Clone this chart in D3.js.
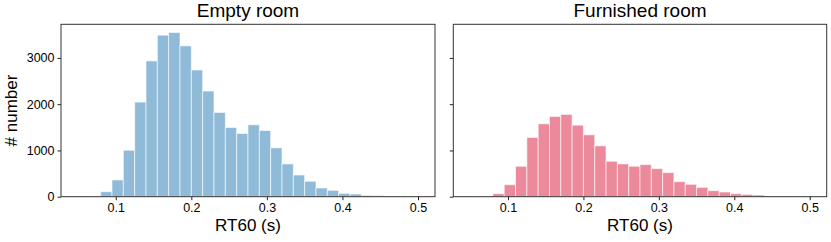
<!DOCTYPE html>
<html>
<head>
<meta charset="utf-8">
<script src="https://cdn.jsdelivr.net/npm/d3@7"></script>
<style>
  body { margin: 0; background: #fff; }
  text { font-family: "Liberation Sans", Arial, sans-serif; fill: #000; }
</style>
</head>
<body>
<div id="chart"></div>
<script>
// histogram bin edges (30 bins of 0.015 s)
var binEdges = [0.05, 0.065, 0.08, 0.095, 0.11, 0.125, 0.14, 0.155, 0.17, 0.185,
                0.2, 0.215, 0.23, 0.245, 0.26, 0.275, 0.29, 0.305, 0.32, 0.335,
                0.35, 0.365, 0.38, 0.395, 0.41, 0.425, 0.44, 0.455, 0.47, 0.485, 0.5];

var emptyCounts = [0, 4, 108, 362, 1005, 2046, 2936, 3492, 3550, 3261,
                   2740, 2285, 1822, 1497, 1367, 1555, 1432, 1056, 709, 470,
                   333, 188, 137, 72, 58, 29, 26, 6, 3, 2];

var furnishedCounts = [0, 2, 65, 260, 658, 1280, 1576, 1735, 1779, 1547,
                       1338, 1099, 766, 709, 658, 694, 607, 521, 325, 268,
                       202, 130, 101, 65, 50, 36, 14, 5, 3, 1];

var xTicks = [0.1, 0.2, 0.3, 0.4, 0.5];
var yTicks = [0, 1000, 2000, 3000];

var panels = [
  {title: 'Empty room', counts: emptyCounts, color: '#8fbbd9', left: 61, right: 435, yLabels: true},
  {title: 'Furnished room', counts: furnishedCounts, color: '#ec8a9c', left: 453.3, right: 826.7, yLabels: false}
];

var width = 831, height = 242;
var plotTop = 24.3, plotBottom = 196.7;

var svg = d3.select('#chart').append('svg')
            .attr('width', width)
            .attr('height', height);

var maxCount = d3.max(emptyCounts.concat(furnishedCounts));
var y = d3.scaleLinear().domain([0, maxCount * 1.05]).range([plotBottom, plotTop]);

// matplotlib style 5% margins around the bin range
var span = binEdges[binEdges.length - 1] - binEdges[0];
var xDomain = [binEdges[0] - span * 0.05, binEdges[binEdges.length - 1] + span * 0.05];

panels.forEach(function(p) {
  var x = d3.scaleLinear().domain(xDomain).range([p.left, p.right]);
  var g = svg.append('g');

  var bins = p.counts.map(function(c, i) {
    return {x0: binEdges[i], x1: binEdges[i + 1], n: c};
  });

  g.selectAll('rect.bar')
   .data(bins)
   .enter().append('rect')
   .attr('class', 'bar')
   .attr('x', function(d) { return x(d.x0); })
   .attr('width', function(d) { return x(d.x1) - x(d.x0); })
   .attr('y', function(d) { return y(d.n); })
   .attr('height', function(d) { return y(0) - y(d.n); })
   .style('fill', p.color)
   .style('stroke', 'rgba(255,255,255,0.6)')
   .style('stroke-width', 1);

  var xAxis = g.append('g')
               .attr('transform', 'translate(0,' + plotBottom + ')')
               .call(d3.axisBottom(x).tickValues(xTicks).tickSize(3.5).tickPadding(3)
                       .tickFormat(d3.format('.1f')));
  xAxis.select('.domain').remove();
  xAxis.selectAll('text').style('font-size', '12.5px')
       .style('font-family', '"Liberation Sans", Arial, sans-serif');
  xAxis.selectAll('line').style('stroke', '#222');

  var yAxis = g.append('g')
               .attr('transform', 'translate(' + p.left + ',0)')
               .call(d3.axisLeft(y).tickValues(yTicks).tickSize(3.5).tickPadding(3)
                       .tickFormat(p.yLabels ? d3.format('d') : ''));
  yAxis.select('.domain').remove();
  yAxis.selectAll('text').style('font-size', '12.5px')
       .style('font-family', '"Liberation Sans", Arial, sans-serif');
  yAxis.selectAll('line').style('stroke', '#222');

  // frame
  g.append('rect')
   .attr('x', p.left)
   .attr('y', plotTop)
   .attr('width', p.right - p.left)
   .attr('height', plotBottom - plotTop)
   .style('fill', 'none')
   .style('stroke', '#333')
   .style('stroke-width', 1);

  g.append('text')
   .attr('x', (p.left + p.right) / 2)
   .attr('y', 17)
   .attr('text-anchor', 'middle')
   .style('font-size', '19px')
   .text(p.title);

  g.append('text')
   .attr('x', (p.left + p.right) / 2)
   .attr('y', 231)
   .attr('text-anchor', 'middle')
   .style('font-size', '17px')
   .text('RT60 (s)');
});

svg.append('text')
   .attr('transform', 'translate(17,' + ((plotTop + plotBottom) / 2) + ') rotate(-90)')
   .attr('text-anchor', 'middle')
   .style('font-size', '17px')
   .text('# number');
</script>
</body>
</html>
